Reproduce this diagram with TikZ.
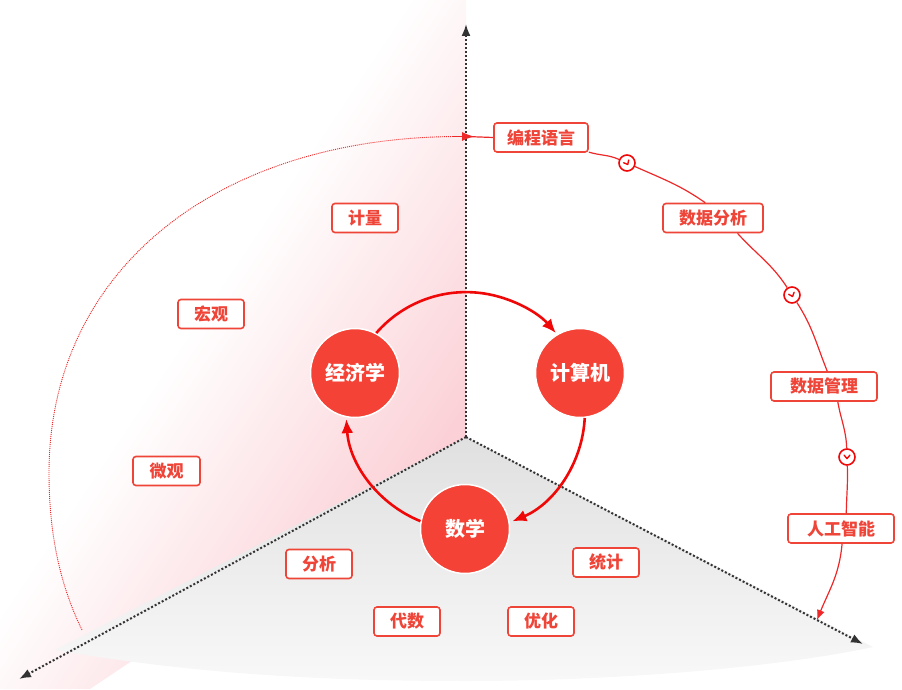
\documentclass[tikz,border=0pt]{standalone}
\usepackage{fontspec}
\setmainfont{Noto Sans CJK SC}
\usetikzlibrary{arrows.meta}
\definecolor{boxred}{RGB}{239,68,56}
\definecolor{circfill}{RGB}{244,67,54}
\definecolor{arrred}{RGB}{240,8,8}
\definecolor{pathred}{RGB}{238,40,40}
\definecolor{wallpink}{RGB}{251,208,214}
\definecolor{floortop}{RGB}{224,224,224}
\definecolor{floorbot}{RGB}{248,248,248}
\definecolor{axisgray}{RGB}{51,51,51}
\pgfdeclarehorizontalshading{wallshade}{100bp}{color(0bp)=(white); color(46.8bp)=(white); color(66.8bp)=(wallpink); color(100bp)=(wallpink)}
\tikzset{
  axisline/.style={axisgray, line width=2pt, dash pattern=on 2pt off 2pt, -{Latex[length=12pt,width=9pt]}},
  outerdot/.style={pathred, line width=0.9pt, dash pattern=on 1pt off 1pt},
  pathline/.style={pathred, line width=1.2pt},
  tagbox/.style={draw=boxred, line width=1.6pt, rounded corners=3pt, fill=white, text=boxred,
    font=\bfseries\fontsize{17}{17}\selectfont, minimum height=29pt, inner sep=0pt},
  bigc/.style={circle, fill=circfill, draw=white, line width=1.5pt, minimum size=89pt, inner sep=0pt,
    text=white, font=\bfseries\fontsize{20}{20}\selectfont},
  marker/.style={circle, draw=arrred, line width=1.6pt, fill=white, minimum size=16pt, inner sep=0pt},
  chev/.style={arrred, line width=1.4pt, line cap=round, line join=round},
  bigarrow/.style={arrred, line width=2.6pt, -{Latex[length=14pt,width=12pt]}}
}
\newcommand\chevat[2]{\begin{scope}[shift={(#1)},rotate=#2]\draw[chev] (-1.8,2.9) -- (1.6,0) -- (-1.8,-2.9);\end{scope}}
\begin{document}
\begin{tikzpicture}[x=1pt,y=1pt]
\useasboundingbox (0,0) rectangle (902,689);
% left wall
\begin{scope}
\clip (0,689) -- (466,689) -- (466,252) -- (90,0) -- (0,0) -- cycle;
\shade[shading=wallshade, shading angle=-33.7] (-117,-5.5) rectangle (583,694.5);
\end{scope}
% floor
\shade[top color=floortop, bottom color=floorbot] (466,252) -- (55,39) .. controls (200,14) and (330,8) .. (466,8) .. controls (620,8) and (780,22) .. (873,42) -- cycle;
% axes
\coordinate (O) at (466,252);
\coordinate (axT) at (466,665);
\coordinate (axL) at (19,10);
\coordinate (axR) at (863,45);
\draw[axisline] (O) -- (axT);
\draw[axisline] (O) -- (axL);
\draw[axisline] (O) -- (axR);
% outer dotted arc
\coordinate (arcstart) at (82,59);
\coordinate (arcleft) at (49,216);
\coordinate (axm) at (466,552.5);
\coordinate (tipR) at (817,69);
\draw[outerdot] (arcstart) .. controls (62,100) and (49,150) .. (arcleft) .. controls (49,418) and (216,552.5) .. (460,552.5);
\draw[pathred, line width=1pt, -{Latex[length=12pt,width=9pt]}] (452,552.5) -- (474,552.5);
% boxes
\node[tagbox, minimum width=94pt] (bc) at (541,551.5) {编程语言};
\node[tagbox, minimum width=100pt] (sf) at (713,471) {数据分析};
\node[tagbox, minimum width=106pt] (sg) at (824,302.5) {数据管理};
\node[tagbox, minimum width=106pt] (rg) at (841,160.5) {人工智能};
\node[tagbox, minimum width=66pt] (jl) at (365,471) {计量};
\node[tagbox, minimum width=66pt] (hg) at (211,375) {宏观};
\node[tagbox, minimum width=67pt] (wg) at (166.5,218) {微观};
\node[tagbox, minimum width=66pt] (fx) at (319,125) {分析};
\node[tagbox, minimum width=66pt] (tj) at (606,126.5) {统计};
\node[tagbox, minimum width=66pt] (ds) at (407,67.5) {代数};
\node[tagbox, minimum width=66pt] (yh) at (541,67.5) {优化};
% markers
\node[marker] (m1) at (627,526) {};
\node[marker] (m2) at (792,394) {};
\node[marker] (m3) at (847,232) {};
\chevat{m1}{-62}
\chevat{m2}{-70}
\chevat{m3}{-90}
% right path
\draw[pathline] (axm) -- (bc.west);
\draw[pathline] (bc.-17) to[out=-17,in=156] (m1);
\draw[pathline] (m1) to[out=-24,in=145] (sf.117);
\draw[pathline] (sf.-32) to[out=-48,in=123] (m2);
\draw[pathline] (m2) to[out=-57,in=112] (sg.78);
\draw[pathline] (sg.-48) to[out=-80,in=92] (m3);
\draw[pathline] (m3) to[out=-88,in=89] (rg.71);
\draw[pathline, -{Latex[length=10pt,width=8pt]}] (rg.-86) to[out=-95,in=68] (tipR);
% circles
\node[bigc] (jj) at (355,316) {经济学};
\node[bigc] (jsj) at (580,316) {计算机};
\node[bigc] (sx) at (465,160) {数学};
% cycle arrows
\draw[bigarrow] (jj.62) arc[start angle=139, end angle=41, radius=119];
\draw[bigarrow] (jsj.-84) arc[start angle=-3, end angle=-67, radius=119];
\draw[bigarrow] (sx.170) arc[start angle=-112, end angle=-176, radius=119];
\end{tikzpicture}
\end{document}
